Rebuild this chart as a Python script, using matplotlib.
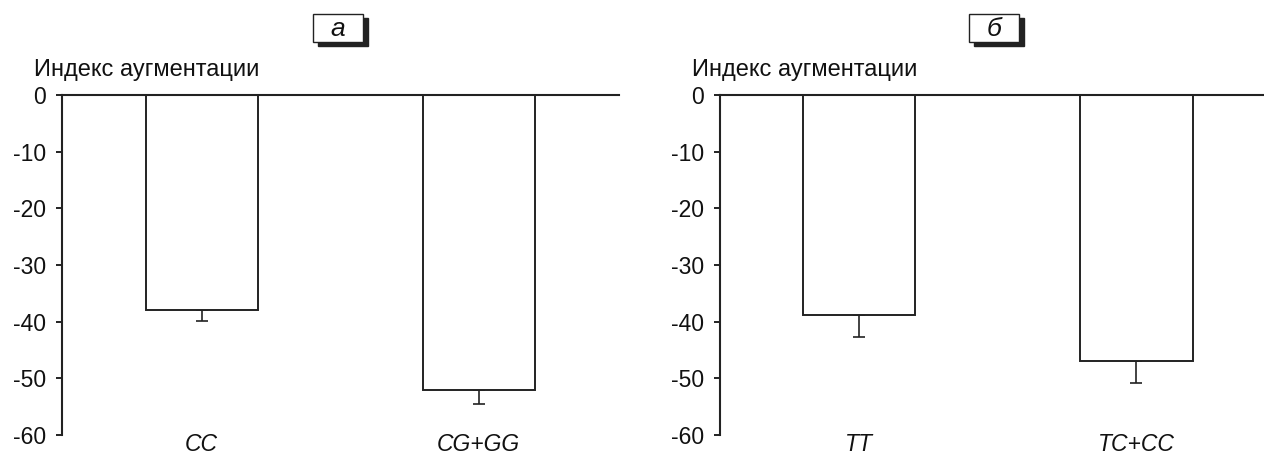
import matplotlib.pyplot as plt
from matplotlib.patches import Rectangle

plt.rcParams['font.family'] = ['Liberation Sans', 'DejaVu Sans']

panel_names = ["а", "б"]
groups_a = ["CC", "CG+GG"]
values_a = [-38, -52]
errors_a = [1.9, 2.6]
groups_b = ["TT", "TC+CC"]
values_b = [-38.8, -46.9]
errors_b = [3.9, 3.9]
ylabel = "Индекс аугментации"
yticks = [0, -10, -20, -30, -40, -50, -60]

fig = plt.figure(figsize=(12.64, 4.55), dpi=100)
W, H = 1264, 455

# axis left px, axis right px, xlim, box left px
panels = [
    (groups_a, values_a, errors_a, 62, 619, (-0.504, 1.507), 313),
    (groups_b, values_b, errors_b, 720, 1263, (-0.501, 1.456), 969),
]

for idx, (groups, vals, errs, x0, x1, xl, boxx) in enumerate(panels):
    ax = fig.add_axes([x0 / W, 1 - 435 / H, (x1 - x0) / W, 340 / H])
    pos = list(range(len(groups)))
    ax.bar(pos, vals, width=0.404, color='white', edgecolor='#222222', linewidth=1.4, zorder=2)
    ax.errorbar(pos, vals, yerr=[errs, [0] * len(errs)], fmt='none', ecolor='#222222',
                elinewidth=1.2, capsize=4.5, capthick=1.2, zorder=1)
    ax.set_xlim(*xl)
    ax.set_ylim(-60, 0)
    ax.set_yticks(yticks)
    ax.set_yticklabels([str(t) for t in yticks])
    ax.tick_params(axis='y', direction='out', length=4.5, width=1.4, labelsize=16.5, pad=7,
                   color='#222222', labelcolor='#111111')
    ax.set_xticks([])
    for s in ['right', 'bottom']:
        ax.spines[s].set_visible(False)
    ax.spines['left'].set_linewidth(1.5)
    ax.spines['top'].set_linewidth(1.5)
    ax.spines['left'].set_color('#222222')
    ax.spines['top'].set_color('#222222')
    ax.spines['top'].set_zorder(3)
    for p, g in zip(pos, groups):
        ax.text(p, -61.6, g, ha='center', va='center', fontsize=16.5, style='italic',
                color='#111111', clip_on=False)
    ax.text(-28 / (x1 - x0), 1.056, ylabel, transform=ax.transAxes, ha='left',
            va='baseline', fontsize=17, color='#111111')
    # boxed panel letter with shadow
    bw, bh = 50, 28
    fig.patches.append(Rectangle(((boxx + 5) / W, 1 - (42 + 4) / H), bw / W, bh / H,
                                 transform=fig.transFigure, facecolor='#222222',
                                 edgecolor='#222222', zorder=1))
    fig.patches.append(Rectangle((boxx / W, 1 - 42 / H), bw / W, bh / H,
                                 transform=fig.transFigure, facecolor='white',
                                 edgecolor='#222222', linewidth=1.0, zorder=2))
    fig.text((boxx + bw / 2) / W, 1 - 29 / H, panel_names[idx], ha='center', va='center',
             fontsize=19, style='italic', zorder=3, color='#111111')

fig.savefig('out.png', dpi=100)
